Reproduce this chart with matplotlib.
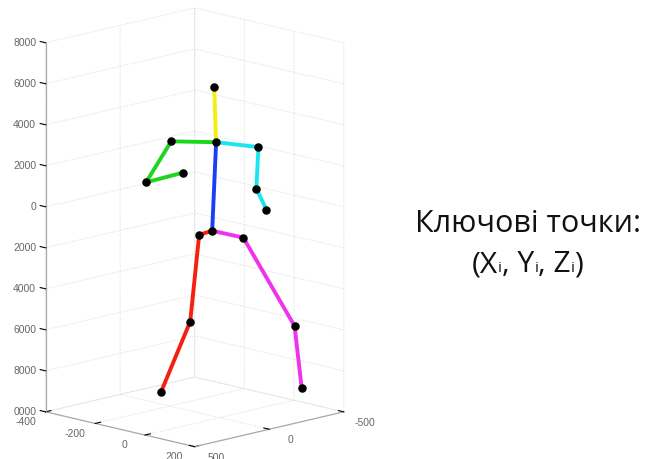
import numpy as np
import matplotlib
matplotlib.use("Agg")
import matplotlib.pyplot as plt
from matplotlib.offsetbox import TextArea, HPacker, AnchoredOffsetbox

# joint coordinates (pelvis, legs, thorax, head, arms)
joint_x = [-65, -76, -79, -123, -17, 71, 115, -57, -61, -132, -153, -48, 13, -6, -1]
joint_y = [-59, 10, 65, 188, -188, -385, -359, -72, -66, 104, 238, 164, -239, -257, -316]
joint_z = [-1169, -1283, -5425, -8789, -1589, -5987, -8836, 3149, 5818,
           3278, 1448, 2094, 2826, 708, -391]

# bones as (start, end) joint indices, grouped by limb colour
bones_red = [(0, 1), (1, 2), (2, 3)]
bones_magenta = [(0, 4), (4, 5), (5, 6)]
bones_blue = [(0, 7)]
bones_yellow = [(7, 8)]
bones_green = [(7, 9), (9, 10), (10, 11)]
bones_cyan = [(7, 12), (12, 13), (13, 14)]

x_ticks = [-400, -200, 0, 200]
x_tick_labels = ['-400', '-200', '0', '200']
y_ticks = [-500, 0, 500]
y_tick_labels = ['-500', '0', '500']
z_ticks = [-10000, -8000, -6000, -4000, -2000, 0, 2000, 4000, 6000, 8000]
z_tick_labels = ['0000', '8000', '6000', '4000', '2000', '0', '2000', '4000', '6000', '8000']

x_lim = (-400, 200)
y_lim = (500, -500)
z_lim = (-10000, 8000)

fig = plt.figure(figsize=(6.46, 4.59), dpi=100)
ax = fig.add_axes([-0.017, -0.027, 0.62, 1.04], projection='3d')
ax.set_proj_type('ortho')
ax.view_init(elev=13.5, azim=-45)

limbs = [
    (bones_red, '#f52010'),
    (bones_magenta, '#ee33ee'),
    (bones_blue, '#1a3df5'),
    (bones_yellow, '#f5ee10'),
    (bones_green, '#1fd61f'),
    (bones_cyan, '#19e6f0'),
]
for bones, col in limbs:
    for a, b in bones:
        ax.plot([joint_x[a], joint_x[b]], [joint_y[a], joint_y[b]],
                [joint_z[a], joint_z[b]], color=col, linewidth=2.8,
                solid_capstyle='round')
ax.scatter(joint_x, joint_y, joint_z, color='black', s=26, depthshade=False,
           zorder=5)

ax.set_xlim(*x_lim)
ax.set_ylim(*y_lim)
ax.set_zlim(*z_lim)
ax.set_box_aspect((1, 1, 1.8), zoom=1.17)

ax.set_xticks(x_ticks)
ax.set_yticks(y_ticks)
ax.set_zticks(z_ticks)
ax.zaxis.set_ticks_position('upper')

for axis in (ax.xaxis, ax.yaxis, ax.zaxis):
    axis.set_pane_color((1, 1, 1, 0))
    axis.pane.set_edgecolor((1, 1, 1, 0))
    axis.line.set_color('#aaaaaa')
    axis.line.set_linewidth(0.9)
    axis._axinfo['grid'].update(color='#d8d8d8', linestyle=':', linewidth=0.7)
    axis._axinfo['tick']['inward_factor'] = 0.0
    axis._axinfo['tick']['outward_factor'] = 0.45
    axis._axinfo['tick']['color'] = '#aaaaaa'
    # labels are drawn by hand below
    axis.set_tick_params(label1On=False, label2On=False)

# tick labels placed just outside the box edges, like the original
lab = dict(fontsize=7.5, family='Liberation Sans', color='#666666')
for t, s in zip(x_ticks, x_tick_labels):
    ax.text(t, y_lim[0] + 135, z_lim[0] - 280, s, ha='center', va='center', **lab)
for t, s in zip(y_ticks, y_tick_labels):
    ax.text(x_lim[1] + 85, t, z_lim[0] - 300, s, ha='center', va='center', **lab)
for t, s in zip(z_ticks, z_tick_labels):
    ax.text(x_lim[0] - 20, y_lim[0] + 30, t, s, ha='right', va='center', **lab)

txt_font = dict(family=['Open Sans', 'DejaVu Sans'], color='#111111')
fig.text(0.818, 0.512, 'Ключові точки:', ha='center', va='center',
         fontsize=22, **txt_font)

# second line: letters with small "i" sitting on the baseline
parts = [('(X', 21.5), ('i', 11), (', Y', 21.5), ('i', 11), (', Z', 21.5),
         ('i', 11), (')', 21.5)]
areas = [TextArea(s, textprops=dict(fontsize=fs, **txt_font)) for s, fs in parts]
row = HPacker(children=areas, align='baseline', pad=0, sep=0)
box = AnchoredOffsetbox(loc='center', child=row, frameon=False,
                        bbox_to_anchor=(0.817, 0.423),
                        bbox_transform=fig.transFigure, borderpad=0, pad=0)
fig.add_artist(box)

fig.savefig('out.png', dpi=100)
